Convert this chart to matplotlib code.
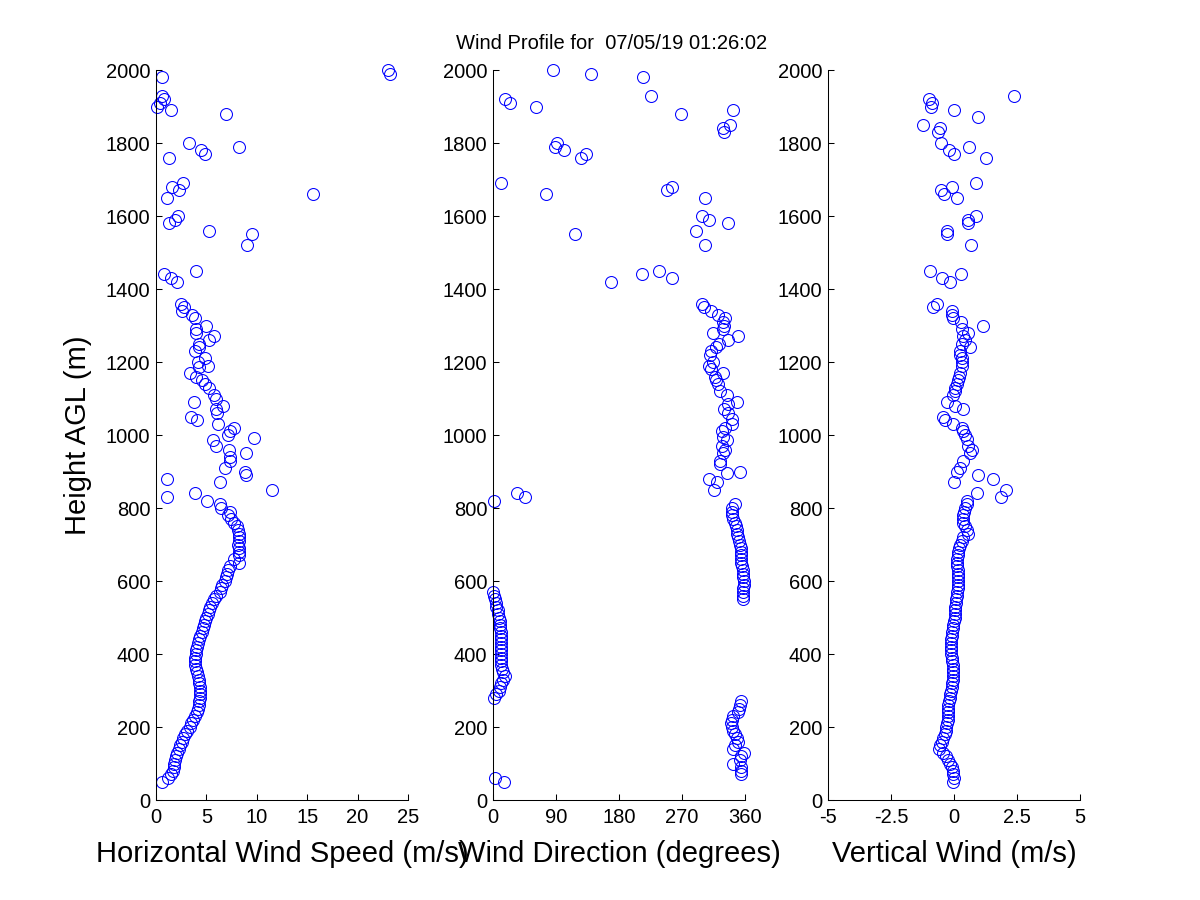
import matplotlib
matplotlib.use('Agg')
import matplotlib.pyplot as plt

plt.rcParams['font.family'] = ['Liberation Sans', 'DejaVu Sans']

title = 'Wind Profile for  07/05/19 01:26:02'

# horizontal wind speed (m/s) vs height (m)
spd_h = [2000, 1990, 1980, 1930, 1920, 1910, 1900, 1890, 1880, 1800, 1790, 1780, 1770, 1760,
         1690, 1680, 1670, 1660, 1650, 1600, 1590, 1580, 1560, 1550, 1520,
         1450, 1440, 1430, 1420, 1360, 1350, 1340, 1330, 1320, 1300, 1290, 1280, 1270, 1260,
         1250, 1240, 1230, 1210, 1200, 1190, 1185, 1170, 1160, 1150, 1140, 1130, 1110, 1100,
         1090, 1080, 1070, 1060, 1050, 1040, 1030, 1020, 1010, 1000, 992, 985, 970, 960, 950,
         940, 930, 910, 900, 890, 880, 870, 850, 840, 830, 820, 810, 800,
         790, 780, 770, 760, 750, 740, 730, 720, 710, 700, 690, 680, 670, 660, 650, 640, 630,
         620, 610, 600, 590, 580, 570, 560, 550, 540, 530, 520, 510, 500, 490, 480, 470, 460,
         450, 440, 430, 420, 410, 400, 390, 380, 370, 360, 350, 340, 330, 320, 310, 300, 290,
         280, 270, 260, 250, 240, 230, 220, 210, 200, 190, 180, 170, 160, 150, 140, 130, 120,
         110, 100, 90, 80, 70, 60, 50]
spd = [23.0, 23.2, 0.6, 0.55, 0.8, 0.4, 0.13, 1.5, 6.9, 3.3, 8.2, 4.5, 4.9, 1.3,
       2.7, 1.6, 2.3, 15.6, 1.1, 2.2, 1.9, 1.3, 5.3, 9.5, 9.0,
       4.0, 0.8, 1.5, 2.1, 2.5, 2.8, 2.6, 3.6, 3.9, 5.0, 4.0, 4.0, 5.8, 5.3,
       4.3, 4.3, 3.9, 4.9, 4.2, 5.2, 4.3, 3.4, 4.0, 4.6, 4.9, 5.3, 5.8, 6.0,
       3.8, 6.6, 5.95, 6.05, 3.5, 4.1, 6.2, 7.7, 7.3, 7.1, 9.75, 5.65, 6.0, 7.2, 8.9,
       7.3, 7.3, 6.8, 8.8, 8.9, 1.1, 6.35, 11.5, 3.9, 1.1, 5.06, 6.35, 6.4,
       7.3, 7.1, 7.4, 7.7, 8.06, 8.15, 8.2, 8.27, 8.2, 8.1, 8.2, 8.25, 8.27, 7.7, 8.2, 7.3, 7.17,
       7.0, 6.9, 6.8, 6.5, 6.4, 6.3, 6.0, 5.75, 5.6, 5.4, 5.3, 5.15, 5.0, 4.9, 4.75, 4.65, 4.55,
       4.4, 4.3, 4.2, 4.05, 4.0, 3.95, 3.9, 3.85, 3.9, 4.0, 4.1, 4.2, 4.3, 4.3, 4.35, 4.35, 4.36,
       4.35, 4.3, 4.3, 4.2, 4.1, 3.9, 3.7, 3.5, 3.35, 3.1, 2.9, 2.7, 2.55, 2.4, 2.25, 2.1, 2.0,
       1.9, 1.8, 1.75, 1.7, 1.5, 1.2, 0.6]

# wind direction (degrees) vs height (m)
dir_h = [2000, 1990, 1980, 1930, 1920, 1910, 1900, 1890, 1880, 1850, 1840, 1830,
         1800, 1790, 1780, 1770, 1760, 1690, 1680, 1670, 1660, 1650, 1600, 1590, 1580,
         1560, 1550, 1520, 1450, 1440, 1430, 1420,
         1360, 1350, 1340, 1330, 1320, 1310, 1300, 1290, 1280, 1270, 1260, 1250, 1240, 1230,
         1220, 1200, 1190, 1180, 1170, 1160, 1150, 1140, 1120, 1110, 1090, 1085, 1070, 1060,
         1045, 1030, 1020, 1010, 995, 985, 970, 960, 950, 930, 920, 900, 895, 880, 870, 850,
         840, 830, 820,
         810, 800, 790, 780, 770, 760, 750, 740, 730, 720, 710, 700, 690, 680, 670, 660, 650,
         640, 630, 620, 610, 600, 590, 580, 570, 560, 550,
         570, 560, 550, 540, 530, 520, 510, 500, 490, 480, 470, 460, 450, 440, 430, 420, 410,
         400, 390, 380, 370, 360, 350, 340, 330, 320, 310, 300, 290, 280,
         270, 260, 250, 240, 230, 220, 210, 200, 190, 180, 170, 160, 150, 140, 130, 120, 110,
         100, 90, 80, 70, 60, 50]
wdir = [86, 140, 215, 226, 17, 25, 62, 343, 269, 339, 329, 330,
        92, 89, 101, 133, 126, 11, 256, 249, 76, 303, 299, 309, 336,
        290, 117, 303, 237, 213, 256, 169,
        298, 301, 311, 322, 331, 329, 330, 328, 315, 350, 336, 323, 319, 312,
        310, 315, 308, 312, 329, 317, 319, 322, 324, 334, 348, 336, 330, 336,
        341, 342, 331, 327, 328, 334, 327, 331, 328, 324, 325, 353, 334, 308, 320, 316,
        35, 46, 1.4,
        346, 342, 341, 342, 343, 346, 347, 348, 349, 350, 352, 353, 354, 355, 355, 355, 355,
        356, 357, 357, 357, 358, 358, 357, 357, 357, 357,
        0.5, 2, 3, 4, 5, 6.5, 7.6, 8.5, 9.5, 10, 10.5, 11, 11, 11.4, 11.4, 11.4, 11.2,
        11, 11, 11, 11.5, 13, 15, 17, 14, 12, 10.5, 8, 5, 1.4,
        355, 353, 351, 350, 343, 341, 340, 341, 343, 346, 348, 350, 346, 343, 358, 355, 353,
        343, 355, 355, 355, 3, 16]

# vertical wind (m/s) vs height (m)
w_h = [1930, 1920, 1910, 1900, 1890, 1870, 1850, 1840, 1830, 1800, 1790, 1780, 1770, 1760,
       1690, 1680, 1670, 1660, 1650, 1600, 1590, 1580, 1560, 1550, 1520,
       1450, 1440, 1430, 1420, 1360, 1350, 1340, 1330, 1320, 1310, 1300, 1290, 1280, 1270,
       1260, 1250, 1240, 1230, 1220, 1210, 1200, 1190, 1170, 1160, 1150, 1140, 1130, 1120,
       1110, 1090, 1080, 1070, 1050, 1040, 1030, 1020, 1010, 1000, 990, 970, 960, 950, 930,
       910, 900, 890, 880, 870, 850, 840, 830, 820,
       810, 800, 790, 780, 770, 760, 750, 740, 730, 720, 710, 700, 690, 680, 670, 660, 650,
       640, 630, 620, 610, 600, 590, 580, 570, 560, 550, 540, 530, 520, 510, 500, 490, 480,
       470, 460, 450, 440, 430, 420, 410, 400, 390, 380, 370, 360, 350, 340, 330, 320, 310,
       300, 290, 280, 270, 260, 250, 240, 230, 220, 210, 200, 190, 180, 170, 160, 150, 140,
       130, 120, 110, 100, 90, 80, 70, 60, 50]
w = [2.37, -1.0, -0.86, -0.9, 0.0, 0.95, -1.23, -0.56, -0.62, -0.5, 0.6, -0.2, 0.0, 1.27,
     0.87, -0.07, -0.5, -0.38, 0.13, 0.87, 0.57, 0.57, -0.26, -0.26, 0.67,
     -0.94, 0.28, -0.48, -0.15, -0.66, -0.82, -0.07, -0.07, -0.03, 0.28, 1.16, 0.3, 0.57, 0.37,
     0.44, 0.3, 0.63, 0.24, 0.24, 0.3, 0.3, 0.33, 0.24, 0.2, 0.15, 0.1, 0.05, 0.04,
     -0.03, -0.29, 0.04, 0.37, -0.42, -0.36, -0.03, 0.3, 0.37, 0.44, 0.5, 0.57, 0.7, 0.63, 0.37,
     0.24, 0.1, 0.95, 1.55, 0.0, 2.06, 0.9, 1.86, 0.5,
     0.5, 0.44, 0.4, 0.37, 0.37, 0.37, 0.44, 0.5, 0.57, 0.37, 0.3, 0.24, 0.2, 0.17, 0.14, 0.12, 0.1,
     0.12, 0.15, 0.17, 0.17, 0.17, 0.16, 0.15, 0.13, 0.1, 0.08, 0.06, 0.04, 0.04, 0.04, 0.02, 0.0, -0.03,
     -0.05, -0.07, -0.09, -0.11, -0.12, -0.13, -0.12, -0.1, -0.09, -0.07, -0.04, -0.03, -0.03, -0.03, -0.05, -0.07, -0.09,
     -0.12, -0.14, -0.16, -0.19, -0.22, -0.22, -0.22, -0.22, -0.25, -0.28, -0.3, -0.33, -0.36, -0.42, -0.49, -0.55, -0.58,
     -0.42, -0.3, -0.22, -0.15, -0.09, -0.05, -0.03, 0.0, -0.03]

panels = [
    (spd, spd_h, [0, 25], [0, 5, 10, 15, 20, 25], ['0', '5', '10', '15', '20', '25'],
     'Horizontal Wind Speed (m/s)'),
    (wdir, dir_h, [0, 360], [0, 90, 180, 270, 360], ['0', '90', '180', '270', '360'],
     'Wind Direction (degrees)'),
    (w, w_h, [-5, 5], [-5, -2.5, 0, 2.5, 5], ['-5', '-2.5', '0', '2.5', '5'],
     'Vertical Wind (m/s)'),
]

fig = plt.figure(figsize=(12, 9), dpi=100)
lefts = [0.13, 0.4108, 0.69]
axes = []
for i, (xv, hv, xlim, xt, xtl, xlab) in enumerate(panels):
    ax = fig.add_axes([lefts[i], 0.1111, 0.21, 0.8111])
    ax.plot(xv, hv, 'o', markerfacecolor='none', markeredgecolor=(0, 0, 1),
            markersize=8.6, markeredgewidth=0.75, linestyle='none', clip_on=False)
    ax.set_xlim(xlim)
    ax.set_ylim(0, 2000)
    ax.set_xticks(xt)
    ax.set_xticklabels(xtl)
    ax.set_yticks(range(0, 2001, 200))
    ax.spines['top'].set_visible(False)
    ax.spines['right'].set_visible(False)
    for s in ('left', 'bottom'):
        ax.spines[s].set_linewidth(0.75)
    ax.tick_params(direction='in', length=4.5, width=0.75, labelsize=14.5)
    ax.tick_params(axis='x', pad=6)
    ax.tick_params(axis='y', pad=4)
    ax.set_xlabel(xlab, fontsize=21, labelpad=9)
    axes.append(ax)

axes[0].set_ylabel('Height AGL (m)', fontsize=21, labelpad=10)
axes[1].set_title(title, fontsize=14.5, pad=15, x=0.47)

fig.savefig('out.png', dpi=100)
